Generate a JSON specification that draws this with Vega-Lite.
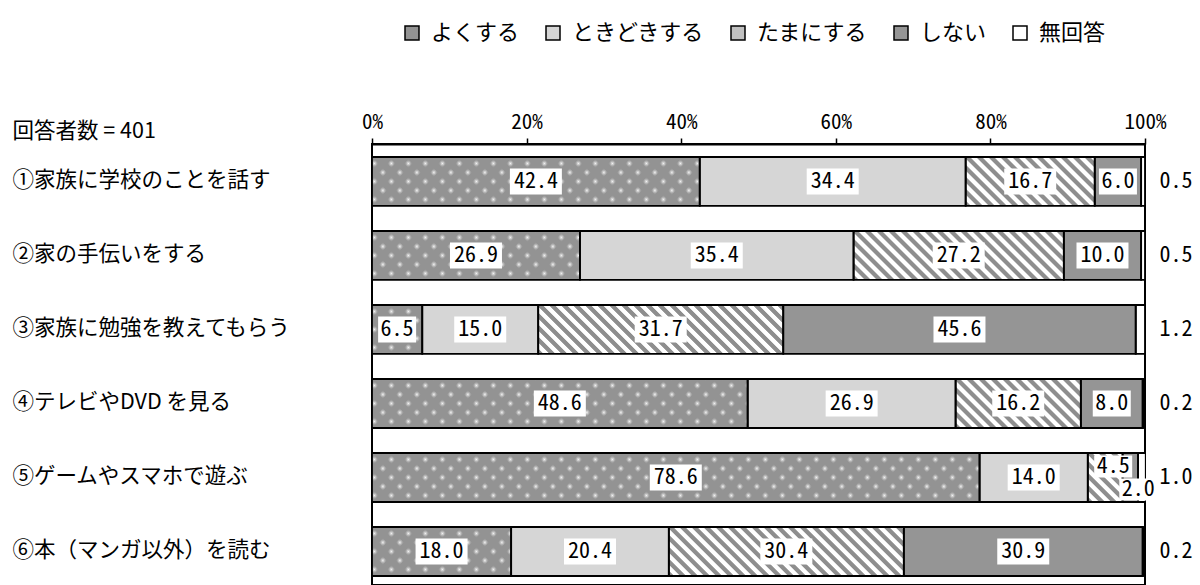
{
  "$schema": "https://vega.github.io/schema/vega-lite/v6.json",
  "width": 773,
  "height": 441,
  "autosize": {"type": "none"},
  "padding": {"left": 372, "top": 144, "right": 55, "bottom": 0},
  "background": "white",
  "config": {"view": {"stroke": "black", "strokeWidth": 2}, "font": "Noto Sans CJK JP"},
  "data": {"values": [
    {"item": "①家族に学校のことを話す", "cat": "よくする", "order": 1, "value": 42.4},
    {"item": "①家族に学校のことを話す", "cat": "ときどきする", "order": 2, "value": 34.4},
    {"item": "①家族に学校のことを話す", "cat": "たまにする", "order": 3, "value": 16.7},
    {"item": "①家族に学校のことを話す", "cat": "しない", "order": 4, "value": 6.0},
    {"item": "①家族に学校のことを話す", "cat": "無回答", "order": 5, "value": 0.5},
    {"item": "②家の手伝いをする", "cat": "よくする", "order": 1, "value": 26.9},
    {"item": "②家の手伝いをする", "cat": "ときどきする", "order": 2, "value": 35.4},
    {"item": "②家の手伝いをする", "cat": "たまにする", "order": 3, "value": 27.2},
    {"item": "②家の手伝いをする", "cat": "しない", "order": 4, "value": 10.0},
    {"item": "②家の手伝いをする", "cat": "無回答", "order": 5, "value": 0.5},
    {"item": "③家族に勉強を教えてもらう", "cat": "よくする", "order": 1, "value": 6.5},
    {"item": "③家族に勉強を教えてもらう", "cat": "ときどきする", "order": 2, "value": 15.0},
    {"item": "③家族に勉強を教えてもらう", "cat": "たまにする", "order": 3, "value": 31.7},
    {"item": "③家族に勉強を教えてもらう", "cat": "しない", "order": 4, "value": 45.6},
    {"item": "③家族に勉強を教えてもらう", "cat": "無回答", "order": 5, "value": 1.2},
    {"item": "④テレビやDVD を見る", "cat": "よくする", "order": 1, "value": 48.6},
    {"item": "④テレビやDVD を見る", "cat": "ときどきする", "order": 2, "value": 26.9},
    {"item": "④テレビやDVD を見る", "cat": "たまにする", "order": 3, "value": 16.2},
    {"item": "④テレビやDVD を見る", "cat": "しない", "order": 4, "value": 8.0},
    {"item": "④テレビやDVD を見る", "cat": "無回答", "order": 5, "value": 0.2},
    {"item": "⑤ゲームやスマホで遊ぶ", "cat": "よくする", "order": 1, "value": 78.6},
    {"item": "⑤ゲームやスマホで遊ぶ", "cat": "ときどきする", "order": 2, "value": 14.0},
    {"item": "⑤ゲームやスマホで遊ぶ", "cat": "たまにする", "order": 3, "value": 4.5},
    {"item": "⑤ゲームやスマホで遊ぶ", "cat": "しない", "order": 4, "value": 2.0},
    {"item": "⑤ゲームやスマホで遊ぶ", "cat": "無回答", "order": 5, "value": 1.0},
    {"item": "⑥本（マンガ以外）を読む", "cat": "よくする", "order": 1, "value": 18.0},
    {"item": "⑥本（マンガ以外）を読む", "cat": "ときどきする", "order": 2, "value": 20.4},
    {"item": "⑥本（マンガ以外）を読む", "cat": "たまにする", "order": 3, "value": 30.4},
    {"item": "⑥本（マンガ以外）を読む", "cat": "しない", "order": 4, "value": 30.9},
    {"item": "⑥本（マンガ以外）を読む", "cat": "無回答", "order": 5, "value": 0.2}
  ]},
  "transform": [
    {"stack": "value", "groupby": ["item"], "sort": [{"field": "order", "order": "ascending"}], "as": ["s0", "s1"]},
    {"calculate": "(datum.s0 + datum.s1) / 2", "as": "mid"}
  ],
  "encoding": {
    "y": {"field": "item", "type": "nominal", "sort": null,
      "scale": {"paddingInner": 0.338, "paddingOuter": 0.1487, "align": 0.59},
      "axis": {"title": "回答者数 = 401", "titleAngle": 0, "titleAlign": "left", "titleBaseline": "middle", "titleX": -360, "titleY": -13, "titleFontSize": 21.5, "titleFontWeight": "normal", "titleColor": "black", "titleFont": "Noto Sans CJK JP", "labelAlign": "left", "labelBaseline": "middle", "labelPadding": 360, "ticks": false, "tickSize": 0, "domain": false, "labelFontSize": 21.5, "labelColor": "black", "labelLimit": 400, "labelFont": "Noto Sans CJK JP"}}
  },
  "layer": [
    {
      "mark": {"type": "bar", "clip": true},
      "encoding": {
        "x": {"field": "s0", "type": "quantitative", "scale": {"domain": [0, 100], "nice": false},
          "axis": {"orient": "top", "values": [0, 20, 40, 60, 80, 100], "labelExpr": "datum.value + '%'", "title": null, "grid": false, "domain": true, "ticks": true, "zindex": 1, "domainColor": "black", "domainWidth": 2, "tickColor": "black", "tickSize": 6, "tickWidth": 1.5, "labelFontSize": 21, "labelFont": "Noto Sans Mono CJK JP, DejaVu Sans Mono, monospace", "labelColor": "black", "labelPadding": 6, "labelFlush": false}},
        "x2": {"field": "s1"},
        "fill": {"field": "cat", "type": "nominal",
          "scale": {"domain": ["よくする", "ときどきする", "たまにする", "しない", "無回答"], "range": ["#939393", "#d6d6d6", "#c0c0c0", "#959595", "#ffffff"]},
          "legend": {"orient": "none", "legendX": 29, "legendY": -122, "direction": "horizontal", "title": null, "symbolType": "square", "symbolSize": 196, "symbolStrokeColor": "black", "symbolStrokeWidth": 1.5, "symbolOpacity": 1, "labelFontSize": 22, "labelColor": "black", "labelFont": "Noto Sans CJK JP", "columnPadding": 22, "labelOffset": 8}}
      }
    },
    {
      "transform": [{"filter": "datum.cat == 'よくする'"}],
      "mark": {"type": "bar", "clip": true, "x2Offset": 612,
        "fill": {"gradient": "linear", "x1": 0, "y1": 1, "x2": 1.1048, "y2": 0.91646, "stops": [
          {"offset": 0.006, "color": "#939393"}, {"offset": 0.0125, "color": "#f6f6f6"}, {"offset": 0.019, "color": "#939393"},
          {"offset": 0.031, "color": "#939393"}, {"offset": 0.0375, "color": "#f6f6f6"}, {"offset": 0.044, "color": "#939393"},
          {"offset": 0.056, "color": "#939393"}, {"offset": 0.0625, "color": "#f6f6f6"}, {"offset": 0.069, "color": "#939393"},
          {"offset": 0.081, "color": "#939393"}, {"offset": 0.0875, "color": "#f6f6f6"}, {"offset": 0.094, "color": "#939393"},
          {"offset": 0.106, "color": "#939393"}, {"offset": 0.1125, "color": "#f6f6f6"}, {"offset": 0.119, "color": "#939393"},
          {"offset": 0.131, "color": "#939393"}, {"offset": 0.1375, "color": "#f6f6f6"}, {"offset": 0.144, "color": "#939393"},
          {"offset": 0.156, "color": "#939393"}, {"offset": 0.1625, "color": "#f6f6f6"}, {"offset": 0.169, "color": "#939393"},
          {"offset": 0.181, "color": "#939393"}, {"offset": 0.1875, "color": "#f6f6f6"}, {"offset": 0.194, "color": "#939393"},
          {"offset": 0.206, "color": "#939393"}, {"offset": 0.2125, "color": "#f6f6f6"}, {"offset": 0.219, "color": "#939393"},
          {"offset": 0.231, "color": "#939393"}, {"offset": 0.2375, "color": "#f6f6f6"}, {"offset": 0.244, "color": "#939393"},
          {"offset": 0.256, "color": "#939393"}, {"offset": 0.2625, "color": "#f6f6f6"}, {"offset": 0.269, "color": "#939393"},
          {"offset": 0.281, "color": "#939393"}, {"offset": 0.2875, "color": "#f6f6f6"}, {"offset": 0.294, "color": "#939393"},
          {"offset": 0.306, "color": "#939393"}, {"offset": 0.3125, "color": "#f6f6f6"}, {"offset": 0.319, "color": "#939393"},
          {"offset": 0.331, "color": "#939393"}, {"offset": 0.3375, "color": "#f6f6f6"}, {"offset": 0.344, "color": "#939393"},
          {"offset": 0.356, "color": "#939393"}, {"offset": 0.3625, "color": "#f6f6f6"}, {"offset": 0.369, "color": "#939393"},
          {"offset": 0.381, "color": "#939393"}, {"offset": 0.3875, "color": "#f6f6f6"}, {"offset": 0.394, "color": "#939393"},
          {"offset": 0.406, "color": "#939393"}, {"offset": 0.4125, "color": "#f6f6f6"}, {"offset": 0.419, "color": "#939393"},
          {"offset": 0.431, "color": "#939393"}, {"offset": 0.4375, "color": "#f6f6f6"}, {"offset": 0.444, "color": "#939393"},
          {"offset": 0.456, "color": "#939393"}, {"offset": 0.4625, "color": "#f6f6f6"}, {"offset": 0.469, "color": "#939393"},
          {"offset": 0.481, "color": "#939393"}, {"offset": 0.4875, "color": "#f6f6f6"}, {"offset": 0.494, "color": "#939393"},
          {"offset": 0.506, "color": "#939393"}, {"offset": 0.5125, "color": "#f6f6f6"}, {"offset": 0.519, "color": "#939393"},
          {"offset": 0.531, "color": "#939393"}, {"offset": 0.5375, "color": "#f6f6f6"}, {"offset": 0.544, "color": "#939393"},
          {"offset": 0.556, "color": "#939393"}, {"offset": 0.5625, "color": "#f6f6f6"}, {"offset": 0.569, "color": "#939393"},
          {"offset": 0.581, "color": "#939393"}, {"offset": 0.5875, "color": "#f6f6f6"}, {"offset": 0.594, "color": "#939393"},
          {"offset": 0.606, "color": "#939393"}, {"offset": 0.6125, "color": "#f6f6f6"}, {"offset": 0.619, "color": "#939393"},
          {"offset": 0.631, "color": "#939393"}, {"offset": 0.6375, "color": "#f6f6f6"}, {"offset": 0.644, "color": "#939393"},
          {"offset": 0.656, "color": "#939393"}, {"offset": 0.6625, "color": "#f6f6f6"}, {"offset": 0.669, "color": "#939393"},
          {"offset": 0.681, "color": "#939393"}, {"offset": 0.6875, "color": "#f6f6f6"}, {"offset": 0.694, "color": "#939393"},
          {"offset": 0.706, "color": "#939393"}, {"offset": 0.7125, "color": "#f6f6f6"}, {"offset": 0.719, "color": "#939393"},
          {"offset": 0.731, "color": "#939393"}, {"offset": 0.7375, "color": "#f6f6f6"}, {"offset": 0.744, "color": "#939393"},
          {"offset": 0.756, "color": "#939393"}, {"offset": 0.7625, "color": "#f6f6f6"}, {"offset": 0.769, "color": "#939393"},
          {"offset": 0.781, "color": "#939393"}, {"offset": 0.7875, "color": "#f6f6f6"}, {"offset": 0.794, "color": "#939393"},
          {"offset": 0.806, "color": "#939393"}, {"offset": 0.8125, "color": "#f6f6f6"}, {"offset": 0.819, "color": "#939393"},
          {"offset": 0.831, "color": "#939393"}, {"offset": 0.8375, "color": "#f6f6f6"}, {"offset": 0.844, "color": "#939393"},
          {"offset": 0.856, "color": "#939393"}, {"offset": 0.8625, "color": "#f6f6f6"}, {"offset": 0.869, "color": "#939393"},
          {"offset": 0.881, "color": "#939393"}, {"offset": 0.8875, "color": "#f6f6f6"}, {"offset": 0.894, "color": "#939393"},
          {"offset": 0.906, "color": "#939393"}, {"offset": 0.9125, "color": "#f6f6f6"}, {"offset": 0.919, "color": "#939393"},
          {"offset": 0.931, "color": "#939393"}, {"offset": 0.9375, "color": "#f6f6f6"}, {"offset": 0.944, "color": "#939393"},
          {"offset": 0.956, "color": "#939393"}, {"offset": 0.9625, "color": "#f6f6f6"}, {"offset": 0.969, "color": "#939393"},
          {"offset": 0.981, "color": "#939393"}, {"offset": 0.9875, "color": "#f6f6f6"}, {"offset": 0.994, "color": "#939393"}
        ]}},
      "encoding": {
        "x": {"field": "s0", "type": "quantitative", "scale": {"domain": [0, 100], "nice": false},
          "axis": {"orient": "top", "values": [0, 20, 40, 60, 80, 100], "labelExpr": "datum.value + '%'", "title": null, "grid": false, "domain": true, "ticks": true, "zindex": 1, "domainColor": "black", "domainWidth": 2, "tickColor": "black", "tickSize": 6, "tickWidth": 1.5, "labelFontSize": 21, "labelFont": "Noto Sans Mono CJK JP, DejaVu Sans Mono, monospace", "labelColor": "black", "labelPadding": 6, "labelFlush": false}},
        "x2": {"field": "s0"}
      }
    },
    {
      "transform": [{"filter": "datum.cat == 'よくする'"}],
      "mark": {"type": "bar", "clip": true, "x2Offset": 612,
        "fill": {"gradient": "linear", "x1": 0, "y1": 0, "x2": 1.1048, "y2": 0.08354, "stops": [
          {"offset": 0.006, "color": "#939393"}, {"offset": 0.0125, "color": "rgba(147,147,147,0)"}, {"offset": 0.019, "color": "#939393"},
          {"offset": 0.031, "color": "#939393"}, {"offset": 0.0375, "color": "rgba(147,147,147,0)"}, {"offset": 0.044, "color": "#939393"},
          {"offset": 0.056, "color": "#939393"}, {"offset": 0.0625, "color": "rgba(147,147,147,0)"}, {"offset": 0.069, "color": "#939393"},
          {"offset": 0.081, "color": "#939393"}, {"offset": 0.0875, "color": "rgba(147,147,147,0)"}, {"offset": 0.094, "color": "#939393"},
          {"offset": 0.106, "color": "#939393"}, {"offset": 0.1125, "color": "rgba(147,147,147,0)"}, {"offset": 0.119, "color": "#939393"},
          {"offset": 0.131, "color": "#939393"}, {"offset": 0.1375, "color": "rgba(147,147,147,0)"}, {"offset": 0.144, "color": "#939393"},
          {"offset": 0.156, "color": "#939393"}, {"offset": 0.1625, "color": "rgba(147,147,147,0)"}, {"offset": 0.169, "color": "#939393"},
          {"offset": 0.181, "color": "#939393"}, {"offset": 0.1875, "color": "rgba(147,147,147,0)"}, {"offset": 0.194, "color": "#939393"},
          {"offset": 0.206, "color": "#939393"}, {"offset": 0.2125, "color": "rgba(147,147,147,0)"}, {"offset": 0.219, "color": "#939393"},
          {"offset": 0.231, "color": "#939393"}, {"offset": 0.2375, "color": "rgba(147,147,147,0)"}, {"offset": 0.244, "color": "#939393"},
          {"offset": 0.256, "color": "#939393"}, {"offset": 0.2625, "color": "rgba(147,147,147,0)"}, {"offset": 0.269, "color": "#939393"},
          {"offset": 0.281, "color": "#939393"}, {"offset": 0.2875, "color": "rgba(147,147,147,0)"}, {"offset": 0.294, "color": "#939393"},
          {"offset": 0.306, "color": "#939393"}, {"offset": 0.3125, "color": "rgba(147,147,147,0)"}, {"offset": 0.319, "color": "#939393"},
          {"offset": 0.331, "color": "#939393"}, {"offset": 0.3375, "color": "rgba(147,147,147,0)"}, {"offset": 0.344, "color": "#939393"},
          {"offset": 0.356, "color": "#939393"}, {"offset": 0.3625, "color": "rgba(147,147,147,0)"}, {"offset": 0.369, "color": "#939393"},
          {"offset": 0.381, "color": "#939393"}, {"offset": 0.3875, "color": "rgba(147,147,147,0)"}, {"offset": 0.394, "color": "#939393"},
          {"offset": 0.406, "color": "#939393"}, {"offset": 0.4125, "color": "rgba(147,147,147,0)"}, {"offset": 0.419, "color": "#939393"},
          {"offset": 0.431, "color": "#939393"}, {"offset": 0.4375, "color": "rgba(147,147,147,0)"}, {"offset": 0.444, "color": "#939393"},
          {"offset": 0.456, "color": "#939393"}, {"offset": 0.4625, "color": "rgba(147,147,147,0)"}, {"offset": 0.469, "color": "#939393"},
          {"offset": 0.481, "color": "#939393"}, {"offset": 0.4875, "color": "rgba(147,147,147,0)"}, {"offset": 0.494, "color": "#939393"},
          {"offset": 0.506, "color": "#939393"}, {"offset": 0.5125, "color": "rgba(147,147,147,0)"}, {"offset": 0.519, "color": "#939393"},
          {"offset": 0.531, "color": "#939393"}, {"offset": 0.5375, "color": "rgba(147,147,147,0)"}, {"offset": 0.544, "color": "#939393"},
          {"offset": 0.556, "color": "#939393"}, {"offset": 0.5625, "color": "rgba(147,147,147,0)"}, {"offset": 0.569, "color": "#939393"},
          {"offset": 0.581, "color": "#939393"}, {"offset": 0.5875, "color": "rgba(147,147,147,0)"}, {"offset": 0.594, "color": "#939393"},
          {"offset": 0.606, "color": "#939393"}, {"offset": 0.6125, "color": "rgba(147,147,147,0)"}, {"offset": 0.619, "color": "#939393"},
          {"offset": 0.631, "color": "#939393"}, {"offset": 0.6375, "color": "rgba(147,147,147,0)"}, {"offset": 0.644, "color": "#939393"},
          {"offset": 0.656, "color": "#939393"}, {"offset": 0.6625, "color": "rgba(147,147,147,0)"}, {"offset": 0.669, "color": "#939393"},
          {"offset": 0.681, "color": "#939393"}, {"offset": 0.6875, "color": "rgba(147,147,147,0)"}, {"offset": 0.694, "color": "#939393"},
          {"offset": 0.706, "color": "#939393"}, {"offset": 0.7125, "color": "rgba(147,147,147,0)"}, {"offset": 0.719, "color": "#939393"},
          {"offset": 0.731, "color": "#939393"}, {"offset": 0.7375, "color": "rgba(147,147,147,0)"}, {"offset": 0.744, "color": "#939393"},
          {"offset": 0.756, "color": "#939393"}, {"offset": 0.7625, "color": "rgba(147,147,147,0)"}, {"offset": 0.769, "color": "#939393"},
          {"offset": 0.781, "color": "#939393"}, {"offset": 0.7875, "color": "rgba(147,147,147,0)"}, {"offset": 0.794, "color": "#939393"},
          {"offset": 0.806, "color": "#939393"}, {"offset": 0.8125, "color": "rgba(147,147,147,0)"}, {"offset": 0.819, "color": "#939393"},
          {"offset": 0.831, "color": "#939393"}, {"offset": 0.8375, "color": "rgba(147,147,147,0)"}, {"offset": 0.844, "color": "#939393"},
          {"offset": 0.856, "color": "#939393"}, {"offset": 0.8625, "color": "rgba(147,147,147,0)"}, {"offset": 0.869, "color": "#939393"},
          {"offset": 0.881, "color": "#939393"}, {"offset": 0.8875, "color": "rgba(147,147,147,0)"}, {"offset": 0.894, "color": "#939393"},
          {"offset": 0.906, "color": "#939393"}, {"offset": 0.9125, "color": "rgba(147,147,147,0)"}, {"offset": 0.919, "color": "#939393"},
          {"offset": 0.931, "color": "#939393"}, {"offset": 0.9375, "color": "rgba(147,147,147,0)"}, {"offset": 0.944, "color": "#939393"},
          {"offset": 0.956, "color": "#939393"}, {"offset": 0.9625, "color": "rgba(147,147,147,0)"}, {"offset": 0.969, "color": "#939393"},
          {"offset": 0.981, "color": "#939393"}, {"offset": 0.9875, "color": "rgba(147,147,147,0)"}, {"offset": 0.994, "color": "#939393"}
        ]}},
      "encoding": {
        "x": {"field": "s0", "type": "quantitative", "scale": {"domain": [0, 100], "nice": false},
          "axis": {"orient": "top", "values": [0, 20, 40, 60, 80, 100], "labelExpr": "datum.value + '%'", "title": null, "grid": false, "domain": true, "ticks": true, "zindex": 1, "domainColor": "black", "domainWidth": 2, "tickColor": "black", "tickSize": 6, "tickWidth": 1.5, "labelFontSize": 21, "labelFont": "Noto Sans Mono CJK JP, DejaVu Sans Mono, monospace", "labelColor": "black", "labelPadding": 6, "labelFlush": false}},
        "x2": {"field": "s0"}
      }
    },
    {
      "transform": [{"filter": "datum.cat == 'ときどきする'"}],
      "mark": {"type": "bar", "clip": true, "x2Offset": 780, "fill": "#d6d6d6"},
      "encoding": {
        "x": {"field": "s0", "type": "quantitative", "scale": {"domain": [0, 100], "nice": false},
          "axis": {"orient": "top", "values": [0, 20, 40, 60, 80, 100], "labelExpr": "datum.value + '%'", "title": null, "grid": false, "domain": true, "ticks": true, "zindex": 1, "domainColor": "black", "domainWidth": 2, "tickColor": "black", "tickSize": 6, "tickWidth": 1.5, "labelFontSize": 21, "labelFont": "Noto Sans Mono CJK JP, DejaVu Sans Mono, monospace", "labelColor": "black", "labelPadding": 6, "labelFlush": false}},
        "x2": {"field": "s0"}
      }
    },
    {
      "transform": [{"filter": "datum.cat == 'たまにする'"}],
      "mark": {"type": "bar", "clip": true, "x2Offset": 260,
        "fill": {"gradient": "linear", "x1": 0, "y1": 1, "x2": 1.7828, "y2": 0.664, "stops": [
          {"offset": 0, "color": "#8e8e8e"}, {"offset": 0.01, "color": "#8e8e8e"}, {"offset": 0.0125, "color": "#ffffff"}, {"offset": 0.0225, "color": "#ffffff"},
          {"offset": 0.025, "color": "#8e8e8e"}, {"offset": 0.035, "color": "#8e8e8e"}, {"offset": 0.0375, "color": "#ffffff"}, {"offset": 0.0475, "color": "#ffffff"},
          {"offset": 0.05, "color": "#8e8e8e"}, {"offset": 0.06, "color": "#8e8e8e"}, {"offset": 0.0625, "color": "#ffffff"}, {"offset": 0.0725, "color": "#ffffff"},
          {"offset": 0.075, "color": "#8e8e8e"}, {"offset": 0.085, "color": "#8e8e8e"}, {"offset": 0.0875, "color": "#ffffff"}, {"offset": 0.0975, "color": "#ffffff"},
          {"offset": 0.1, "color": "#8e8e8e"}, {"offset": 0.11, "color": "#8e8e8e"}, {"offset": 0.1125, "color": "#ffffff"}, {"offset": 0.1225, "color": "#ffffff"},
          {"offset": 0.125, "color": "#8e8e8e"}, {"offset": 0.135, "color": "#8e8e8e"}, {"offset": 0.1375, "color": "#ffffff"}, {"offset": 0.1475, "color": "#ffffff"},
          {"offset": 0.15, "color": "#8e8e8e"}, {"offset": 0.16, "color": "#8e8e8e"}, {"offset": 0.1625, "color": "#ffffff"}, {"offset": 0.1725, "color": "#ffffff"},
          {"offset": 0.175, "color": "#8e8e8e"}, {"offset": 0.185, "color": "#8e8e8e"}, {"offset": 0.1875, "color": "#ffffff"}, {"offset": 0.1975, "color": "#ffffff"},
          {"offset": 0.2, "color": "#8e8e8e"}, {"offset": 0.21, "color": "#8e8e8e"}, {"offset": 0.2125, "color": "#ffffff"}, {"offset": 0.2225, "color": "#ffffff"},
          {"offset": 0.225, "color": "#8e8e8e"}, {"offset": 0.235, "color": "#8e8e8e"}, {"offset": 0.2375, "color": "#ffffff"}, {"offset": 0.2475, "color": "#ffffff"},
          {"offset": 0.25, "color": "#8e8e8e"}, {"offset": 0.26, "color": "#8e8e8e"}, {"offset": 0.2625, "color": "#ffffff"}, {"offset": 0.2725, "color": "#ffffff"},
          {"offset": 0.275, "color": "#8e8e8e"}, {"offset": 0.285, "color": "#8e8e8e"}, {"offset": 0.2875, "color": "#ffffff"}, {"offset": 0.2975, "color": "#ffffff"},
          {"offset": 0.3, "color": "#8e8e8e"}, {"offset": 0.31, "color": "#8e8e8e"}, {"offset": 0.3125, "color": "#ffffff"}, {"offset": 0.3225, "color": "#ffffff"},
          {"offset": 0.325, "color": "#8e8e8e"}, {"offset": 0.335, "color": "#8e8e8e"}, {"offset": 0.3375, "color": "#ffffff"}, {"offset": 0.3475, "color": "#ffffff"},
          {"offset": 0.35, "color": "#8e8e8e"}, {"offset": 0.36, "color": "#8e8e8e"}, {"offset": 0.3625, "color": "#ffffff"}, {"offset": 0.3725, "color": "#ffffff"},
          {"offset": 0.375, "color": "#8e8e8e"}, {"offset": 0.385, "color": "#8e8e8e"}, {"offset": 0.3875, "color": "#ffffff"}, {"offset": 0.3975, "color": "#ffffff"},
          {"offset": 0.4, "color": "#8e8e8e"}, {"offset": 0.41, "color": "#8e8e8e"}, {"offset": 0.4125, "color": "#ffffff"}, {"offset": 0.4225, "color": "#ffffff"},
          {"offset": 0.425, "color": "#8e8e8e"}, {"offset": 0.435, "color": "#8e8e8e"}, {"offset": 0.4375, "color": "#ffffff"}, {"offset": 0.4475, "color": "#ffffff"},
          {"offset": 0.45, "color": "#8e8e8e"}, {"offset": 0.46, "color": "#8e8e8e"}, {"offset": 0.4625, "color": "#ffffff"}, {"offset": 0.4725, "color": "#ffffff"},
          {"offset": 0.475, "color": "#8e8e8e"}, {"offset": 0.485, "color": "#8e8e8e"}, {"offset": 0.4875, "color": "#ffffff"}, {"offset": 0.4975, "color": "#ffffff"},
          {"offset": 0.5, "color": "#8e8e8e"}, {"offset": 0.51, "color": "#8e8e8e"}, {"offset": 0.5125, "color": "#ffffff"}, {"offset": 0.5225, "color": "#ffffff"},
          {"offset": 0.525, "color": "#8e8e8e"}, {"offset": 0.535, "color": "#8e8e8e"}, {"offset": 0.5375, "color": "#ffffff"}, {"offset": 0.5475, "color": "#ffffff"},
          {"offset": 0.55, "color": "#8e8e8e"}, {"offset": 0.56, "color": "#8e8e8e"}, {"offset": 0.5625, "color": "#ffffff"}, {"offset": 0.5725, "color": "#ffffff"},
          {"offset": 0.575, "color": "#8e8e8e"}, {"offset": 0.585, "color": "#8e8e8e"}, {"offset": 0.5875, "color": "#ffffff"}, {"offset": 0.5975, "color": "#ffffff"},
          {"offset": 0.6, "color": "#8e8e8e"}, {"offset": 0.61, "color": "#8e8e8e"}, {"offset": 0.6125, "color": "#ffffff"}, {"offset": 0.6225, "color": "#ffffff"},
          {"offset": 0.625, "color": "#8e8e8e"}, {"offset": 0.635, "color": "#8e8e8e"}, {"offset": 0.6375, "color": "#ffffff"}, {"offset": 0.6475, "color": "#ffffff"},
          {"offset": 0.65, "color": "#8e8e8e"}, {"offset": 0.66, "color": "#8e8e8e"}, {"offset": 0.6625, "color": "#ffffff"}, {"offset": 0.6725, "color": "#ffffff"},
          {"offset": 0.675, "color": "#8e8e8e"}
        ]}},
      "encoding": {
        "x": {"field": "s0", "type": "quantitative", "scale": {"domain": [0, 100], "nice": false},
          "axis": {"orient": "top", "values": [0, 20, 40, 60, 80, 100], "labelExpr": "datum.value + '%'", "title": null, "grid": false, "domain": true, "ticks": true, "zindex": 1, "domainColor": "black", "domainWidth": 2, "tickColor": "black", "tickSize": 6, "tickWidth": 1.5, "labelFontSize": 21, "labelFont": "Noto Sans Mono CJK JP, DejaVu Sans Mono, monospace", "labelColor": "black", "labelPadding": 6, "labelFlush": false}},
        "x2": {"field": "s0"}
      }
    },
    {
      "transform": [{"filter": "datum.cat == 'しない'"}],
      "mark": {"type": "bar", "clip": true, "x2Offset": 780, "fill": "#959595"},
      "encoding": {
        "x": {"field": "s0", "type": "quantitative", "scale": {"domain": [0, 100], "nice": false},
          "axis": {"orient": "top", "values": [0, 20, 40, 60, 80, 100], "labelExpr": "datum.value + '%'", "title": null, "grid": false, "domain": true, "ticks": true, "zindex": 1, "domainColor": "black", "domainWidth": 2, "tickColor": "black", "tickSize": 6, "tickWidth": 1.5, "labelFontSize": 21, "labelFont": "Noto Sans Mono CJK JP, DejaVu Sans Mono, monospace", "labelColor": "black", "labelPadding": 6, "labelFlush": false}},
        "x2": {"field": "s0"}
      }
    },
    {
      "transform": [{"filter": "datum.cat == '無回答'"}],
      "mark": {"type": "bar", "clip": true, "x2Offset": 780, "fill": "#ffffff"},
      "encoding": {
        "x": {"field": "s0", "type": "quantitative", "scale": {"domain": [0, 100], "nice": false},
          "axis": {"orient": "top", "values": [0, 20, 40, 60, 80, 100], "labelExpr": "datum.value + '%'", "title": null, "grid": false, "domain": true, "ticks": true, "zindex": 1, "domainColor": "black", "domainWidth": 2, "tickColor": "black", "tickSize": 6, "tickWidth": 1.5, "labelFontSize": 21, "labelFont": "Noto Sans Mono CJK JP, DejaVu Sans Mono, monospace", "labelColor": "black", "labelPadding": 6, "labelFlush": false}},
        "x2": {"field": "s0"}
      }
    },
    {
      "mark": {"type": "bar", "clip": true, "fill": "transparent", "stroke": "black", "strokeWidth": 1.8},
      "encoding": {
        "x": {"field": "s0", "type": "quantitative", "scale": {"domain": [0, 100], "nice": false},
          "axis": {"orient": "top", "values": [0, 20, 40, 60, 80, 100], "labelExpr": "datum.value + '%'", "title": null, "grid": false, "domain": true, "ticks": true, "zindex": 1, "domainColor": "black", "domainWidth": 2, "tickColor": "black", "tickSize": 6, "tickWidth": 1.5, "labelFontSize": 21, "labelFont": "Noto Sans Mono CJK JP, DejaVu Sans Mono, monospace", "labelColor": "black", "labelPadding": 6, "labelFlush": false}},
        "x2": {"field": "s1"}
      }
    },
    {
      "transform": [{"filter": "datum.cat != '無回答' && datum.value >= 10"}],
      "mark": {"type": "bar", "fill": "white", "height": 26, "xOffset": -26, "x2Offset": 26},
      "encoding": {
        "x": {"field": "mid", "type": "quantitative", "scale": {"domain": [0, 100], "nice": false},
          "axis": {"orient": "top", "values": [0, 20, 40, 60, 80, 100], "labelExpr": "datum.value + '%'", "title": null, "grid": false, "domain": true, "ticks": true, "zindex": 1, "domainColor": "black", "domainWidth": 2, "tickColor": "black", "tickSize": 6, "tickWidth": 1.5, "labelFontSize": 21, "labelFont": "Noto Sans Mono CJK JP, DejaVu Sans Mono, monospace", "labelColor": "black", "labelPadding": 6, "labelFlush": false}},
        "x2": {"field": "mid"}
      }
    },
    {
      "transform": [{"filter": "datum.cat != '無回答' && datum.value < 10 && datum.item != '⑤ゲームやスマホで遊ぶ'"}],
      "mark": {"type": "bar", "fill": "white", "height": 26, "xOffset": -19, "x2Offset": 19},
      "encoding": {
        "x": {"field": "mid", "type": "quantitative", "scale": {"domain": [0, 100], "nice": false},
          "axis": {"orient": "top", "values": [0, 20, 40, 60, 80, 100], "labelExpr": "datum.value + '%'", "title": null, "grid": false, "domain": true, "ticks": true, "zindex": 1, "domainColor": "black", "domainWidth": 2, "tickColor": "black", "tickSize": 6, "tickWidth": 1.5, "labelFontSize": 21, "labelFont": "Noto Sans Mono CJK JP, DejaVu Sans Mono, monospace", "labelColor": "black", "labelPadding": 6, "labelFlush": false}},
        "x2": {"field": "mid"}
      }
    },
    {
      "transform": [{"filter": "datum.cat != '無回答' && !(datum.item == '⑤ゲームやスマホで遊ぶ' && (datum.cat == 'たまにする' || datum.cat == 'しない'))"}],
      "mark": {"type": "text", "font": "Noto Sans Mono CJK JP, DejaVu Sans Mono, monospace", "fontSize": 22, "color": "black", "align": "center", "baseline": "middle"},
      "encoding": {
        "x": {"field": "mid", "type": "quantitative", "scale": {"domain": [0, 100], "nice": false},
          "axis": {"orient": "top", "values": [0, 20, 40, 60, 80, 100], "labelExpr": "datum.value + '%'", "title": null, "grid": false, "domain": true, "ticks": true, "zindex": 1, "domainColor": "black", "domainWidth": 2, "tickColor": "black", "tickSize": 6, "tickWidth": 1.5, "labelFontSize": 21, "labelFont": "Noto Sans Mono CJK JP, DejaVu Sans Mono, monospace", "labelColor": "black", "labelPadding": 6, "labelFlush": false}},
        "text": {"field": "value", "type": "quantitative", "format": ".1f"}
      }
    },
    {
      "transform": [{"filter": "datum.item == '⑤ゲームやスマホで遊ぶ' && datum.cat == 'たまにする'"}],
      "mark": {"type": "bar", "fill": "white", "height": 22, "xOffset": -11, "x2Offset": 27, "yOffset": -11},
      "encoding": {
        "x": {"field": "mid", "type": "quantitative", "scale": {"domain": [0, 100], "nice": false},
          "axis": {"orient": "top", "values": [0, 20, 40, 60, 80, 100], "labelExpr": "datum.value + '%'", "title": null, "grid": false, "domain": true, "ticks": true, "zindex": 1, "domainColor": "black", "domainWidth": 2, "tickColor": "black", "tickSize": 6, "tickWidth": 1.5, "labelFontSize": 21, "labelFont": "Noto Sans Mono CJK JP, DejaVu Sans Mono, monospace", "labelColor": "black", "labelPadding": 6, "labelFlush": false}},
        "x2": {"field": "mid"}
      }
    },
    {
      "transform": [{"filter": "datum.item == '⑤ゲームやスマホで遊ぶ' && datum.cat == 'たまにする'"}],
      "mark": {"type": "text", "font": "Noto Sans Mono CJK JP, DejaVu Sans Mono, monospace", "fontSize": 22, "color": "black", "align": "center", "baseline": "middle", "dx": 8, "dy": -11},
      "encoding": {
        "x": {"field": "mid", "type": "quantitative", "scale": {"domain": [0, 100], "nice": false},
          "axis": {"orient": "top", "values": [0, 20, 40, 60, 80, 100], "labelExpr": "datum.value + '%'", "title": null, "grid": false, "domain": true, "ticks": true, "zindex": 1, "domainColor": "black", "domainWidth": 2, "tickColor": "black", "tickSize": 6, "tickWidth": 1.5, "labelFontSize": 21, "labelFont": "Noto Sans Mono CJK JP, DejaVu Sans Mono, monospace", "labelColor": "black", "labelPadding": 6, "labelFlush": false}},
        "text": {"field": "value", "type": "quantitative", "format": ".1f"}
      }
    },
    {
      "transform": [{"filter": "datum.item == '⑤ゲームやスマホで遊ぶ' && datum.cat == 'しない'"}],
      "mark": {"type": "bar", "fill": "white", "height": 22, "xOffset": -11, "x2Offset": 27, "yOffset": 12},
      "encoding": {
        "x": {"field": "mid", "type": "quantitative", "scale": {"domain": [0, 100], "nice": false},
          "axis": {"orient": "top", "values": [0, 20, 40, 60, 80, 100], "labelExpr": "datum.value + '%'", "title": null, "grid": false, "domain": true, "ticks": true, "zindex": 1, "domainColor": "black", "domainWidth": 2, "tickColor": "black", "tickSize": 6, "tickWidth": 1.5, "labelFontSize": 21, "labelFont": "Noto Sans Mono CJK JP, DejaVu Sans Mono, monospace", "labelColor": "black", "labelPadding": 6, "labelFlush": false}},
        "x2": {"field": "mid"}
      }
    },
    {
      "transform": [{"filter": "datum.item == '⑤ゲームやスマホで遊ぶ' && datum.cat == 'しない'"}],
      "mark": {"type": "text", "font": "Noto Sans Mono CJK JP, DejaVu Sans Mono, monospace", "fontSize": 22, "color": "black", "align": "center", "baseline": "middle", "dx": 8, "dy": 12},
      "encoding": {
        "x": {"field": "mid", "type": "quantitative", "scale": {"domain": [0, 100], "nice": false},
          "axis": {"orient": "top", "values": [0, 20, 40, 60, 80, 100], "labelExpr": "datum.value + '%'", "title": null, "grid": false, "domain": true, "ticks": true, "zindex": 1, "domainColor": "black", "domainWidth": 2, "tickColor": "black", "tickSize": 6, "tickWidth": 1.5, "labelFontSize": 21, "labelFont": "Noto Sans Mono CJK JP, DejaVu Sans Mono, monospace", "labelColor": "black", "labelPadding": 6, "labelFlush": false}},
        "text": {"field": "value", "type": "quantitative", "format": ".1f"}
      }
    },
    {
      "transform": [{"filter": "datum.cat == '無回答'"}],
      "mark": {"type": "text", "font": "Noto Sans Mono CJK JP, DejaVu Sans Mono, monospace", "fontSize": 22, "color": "black", "align": "center", "baseline": "middle", "dx": 31},
      "encoding": {
        "x": {"datum": 100, "type": "quantitative", "scale": {"domain": [0, 100], "nice": false},
          "axis": {"orient": "top", "values": [0, 20, 40, 60, 80, 100], "labelExpr": "datum.value + '%'", "title": null, "grid": false, "domain": true, "ticks": true, "zindex": 1, "domainColor": "black", "domainWidth": 2, "tickColor": "black", "tickSize": 6, "tickWidth": 1.5, "labelFontSize": 21, "labelFont": "Noto Sans Mono CJK JP, DejaVu Sans Mono, monospace", "labelColor": "black", "labelPadding": 6, "labelFlush": false}},
        "text": {"field": "value", "type": "quantitative", "format": ".1f"}
      }
    }
  ]
}
